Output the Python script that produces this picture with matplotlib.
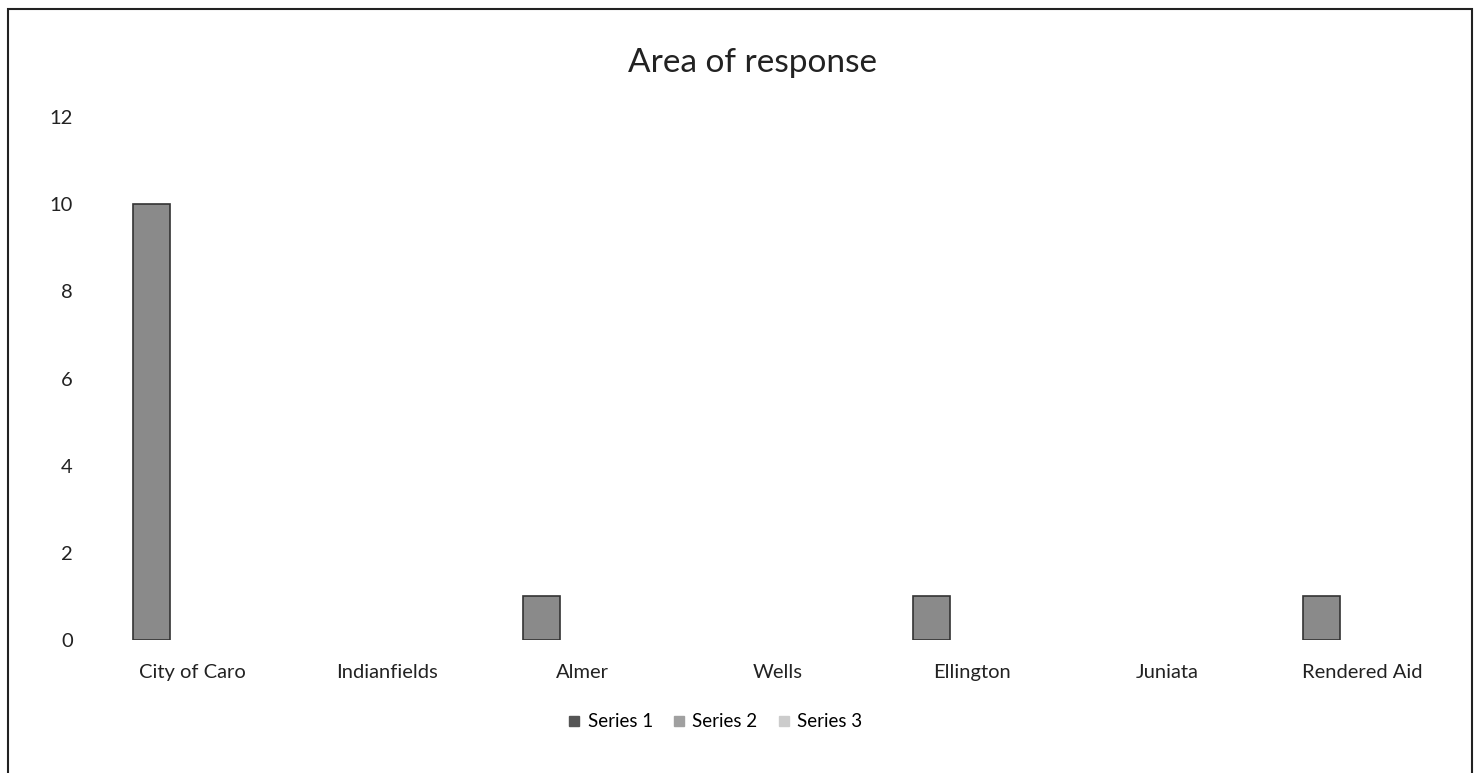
import numpy as np
import matplotlib
matplotlib.use('Agg')
import matplotlib.pyplot as plt
from matplotlib.patches import Rectangle
from matplotlib.lines import Line2D

# ---- data ----
categories = ['City of Caro', 'Indianfields', 'Almer', 'Wells', 'Ellington', 'Juniata', 'Rendered Aid']
series1 = [10, 0, 1, 0, 1, 0, 1]
series2 = [0, 0, 0, 0, 0, 0, 0]
series3 = [0, 0, 0, 0, 0, 0, 0]
series_names = ['Series 1', 'Series 2', 'Series 3']
yticks = [0, 2, 4, 6, 8, 10, 12]

plt.rcParams['font.family'] = ['Lato', 'DejaVu Sans']

fig = plt.figure(figsize=(14.76, 7.73), dpi=100)
ax = fig.add_axes([0.0644, 0.172, 0.9246, 0.6766])

x = np.arange(len(categories))
w = 0.19
lw1 = [1.2 if v > 0 else 0 for v in series1]
ax.bar(x - 0.21, series1, width=w, color='#8a8a8a', edgecolor='#333333', linewidth=lw1)
ax.bar(x, series2, width=w, color='#a8a8a8', linewidth=0)
ax.bar(x + 0.21, series3, width=w, color='#d0d0d0', linewidth=0)

ax.set_xlim(-0.5, len(categories) - 0.5)
ax.set_ylim(0, 12)
ax.set_yticks(yticks)
ax.set_xticks(x)
ax.set_xticklabels(categories)
ax.tick_params(axis='both', length=0, labelsize=14.5, colors='#222222')
ax.tick_params(axis='y', pad=16)
ax.tick_params(axis='x', pad=17)
for s in ax.spines.values():
    s.set_visible(False)

fig.text(0.51, 0.918, 'Area of response', ha='center', va='center', fontsize=24, color='#222222')

handles = [Line2D([], [], marker='s', linestyle='none', markersize=7, color=c)
           for c in ['#555555', '#a0a0a0', '#cccccc']]
fig.legend(handles, series_names, loc='center', bbox_to_anchor=(0.484, 0.066), ncol=3,
           frameon=False, fontsize=13.5, handlelength=0.8, handletextpad=0.3, columnspacing=1.0)

# chart border
fig.patches.append(Rectangle((8 / 1476, -0.01), 1464 / 1476, 1 - 9 / 773 + 0.01,
                             transform=fig.transFigure, fill=False, edgecolor='#222222', linewidth=1.5))

fig.savefig('out.png', dpi=100)
